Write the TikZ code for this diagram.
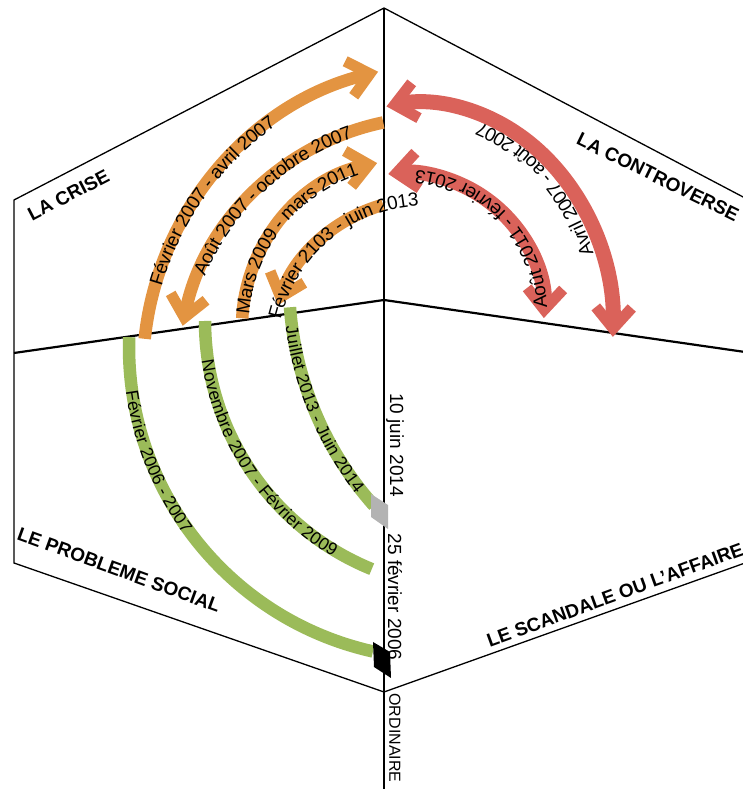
\documentclass[tikz,border=0pt]{standalone}
\usepackage{fontspec}
\setmainfont{Liberation Sans}
\usepackage{tikz}
\usetikzlibrary{arrows.meta,calc,decorations.text}
\definecolor{arcorange}{HTML}{E39441}
\definecolor{arcred}{HTML}{DA625A}
\definecolor{arcgreen}{HTML}{9BBB59}
\definecolor{markgray}{HTML}{B3B3B3}
\newcommand{\phasefont}{\fontsize{19}{19}\selectfont\bfseries}
\newcommand{\datefont}{\fontsize{19}{19}\selectfont}
\newcommand{\greenfont}{\fontsize{17.5}{17.5}\selectfont}

\begin{document}
\begin{tikzpicture}[x=1pt,y=1pt,
  frame/.style={line width=1.3pt},
  axis/.style={line width=2.2pt},
  phase/.style={font=\phasefont,inner sep=0pt},
  date/.style={font=\datefont,rotate=-90,inner sep=0pt},
  band/.style={line width=12.5pt},
  redband/.style={line width=15pt},
  chev/.tip={Straight Barb[length=21pt,width=36pt,line width=11pt]},
  arclabel/.style={decorate,decoration={text along path,text align=center,raise=#1}}]
  \useasboundingbox (0,0) rectangle (743,789);
  % frame of the four quadrants
  \coordinate (top) at (384,781); \coordinate (tl) at (14,589); \coordinate (bl) at (14,226);
  \coordinate (bot) at (384,97); \coordinate (br) at (745,226); \coordinate (tr) at (745,591);
  \coordinate (ml) at (14,436); \coordinate (mc) at (384,489); \coordinate (mr) at (745,437);
  \coordinate (axbot) at (384,-2);
  \draw[frame] (tr) -- (top) -- (tl) -- (bl) -- (bot) -- (br);
  \draw[axis] (top) -- (axbot);
  \draw[axis] (ml) -- (mc) -- (mr);
  \node[phase,rotate=27.5] (crise) at (68.5,594) {LA CRISE};
  \node[phase,rotate=-26] (controverse) at (658,612) {LA CONTROVERSE};
  \node[phase,rotate=-20] (social) at (119,219) {LE PROBLEME SOCIAL};
  \node[phase,rotate=20] (scandale) at (615,194) {LE SCANDALE OU L’AFFAIRE};
  \node[date] (juin) at (395,344) {10 juin 2014};
  \node[date] (fevrier) at (395,192) {25 février 2006};
  \node[date,font=\fontsize{16}{16}\selectfont] (ordinaire) at (395,51) {ORDINAIRE};

  % green arcs (probleme social)
  \coordinate (g1) at (441,442); \coordinate (g2) at (473,468); \coordinate (g3) at (626,507);
  \draw[band,arcgreen] ($(g1)+(178.2:312)$) arc[start angle=178.2,end angle=257.4,radius=312];
  \draw[band,arcgreen] ($(g2)+(180:268)$) arc[start angle=180,end angle=247.8,radius=268];
  \draw[band,arcgreen] ($(g3)+(184.3:337)$) arc[start angle=184.3,end angle=221.6,radius=337];
  \fill[markgray] (371,295) -- (388,284) -- (388,260) -- (371,272) -- cycle;
  \fill[black] (373,147) -- (390,137) -- (391,111) -- (374,122) -- cycle;

  % orange arcs (crise)
  \coordinate (o1) at (451,418); \coordinate (o2) at (436,414);
  \coordinate (o3) at (409,462); \coordinate (o4) at (425,435);
  \draw[band,arcorange,-chev] ($(o1)+(174:308)$) arc[start angle=174,end angle=103.7,radius=308];
  \draw[band,arcorange,-chev] ($(o2)+(101.8:258)$) arc[start angle=101.8,end angle=169,radius=258];
  \draw[band,arcorange,-chev] ($(o3)+(177:167)$) arc[start angle=177,end angle=101,radius=167];
  \draw[band,arcorange,-chev] ($(o4)+(105.7:155)$) arc[start angle=105.7,end angle=161.6,radius=155];

  % red arcs (controverse)
  \coordinate (r1) at (420,460); \coordinate (r2) at (405,477);
  \draw[redband,arcred,chev-chev] ($(r1)+(-2:193 and 226)$) arc[start angle=-2,end angle=100,x radius=193,y radius=226];
  \draw[redband,arcred,chev-chev] ($(r2)+(-2.5:139)$) arc[start angle=-2.5,end angle=96.9,radius=139];

  % labels along the arcs
  \path[arclabel=-6.8pt,decoration={text={|\datefont|Février 2007 - avril 2007}}] ($(o1)+(179.6:308)$) arc[start angle=179.6,end angle=109.6,radius=308];
  \path[arclabel=-6.8pt,decoration={text={|\datefont|Août 2007 - octobre 2007}}] ($(o2)+(168.1:258)$) arc[start angle=168.1,end angle=98.1,radius=258];
  \path[arclabel=-6.8pt,decoration={text={|\datefont|Mars 2009 - mars 2011}}] ($(o3)+(191.8:167)$) arc[start angle=191.8,end angle=91.8,radius=167];
  \path[arclabel=-6.8pt,decoration={text={|\datefont|Février 2103 - juin 2013}}] ($(o4)+(179.5:155)$) arc[start angle=179.5,end angle=79.5,radius=155];
  \path[arclabel=-6.3pt,decoration={text={|\greenfont|Février 2006 - 2007}}] ($(g1)+(172:312)$) arc[start angle=172,end angle=232,radius=312];
  \path[arclabel=-6.3pt,decoration={text={|\greenfont|Novembre 2007 - Février 2009}}] ($(g2)+(178.8:268)$) arc[start angle=178.8,end angle=248.8,radius=268];
  \path[arclabel=-6.3pt,decoration={text={|\greenfont|Juillet 2013 - Juin 2014}}] ($(g3)+(177.8:337)$) arc[start angle=177.8,end angle=227.8,radius=337];
  \path[arclabel=8pt,decoration={text={|\datefont|Avril 2007 - août 2007}}] ($(r1)+(2:193 and 226)$) arc[start angle=2,end angle=92,x radius=193,y radius=226];
  \path[arclabel=-3pt,decoration={text={|\datefont|Août 2011 - février 2013}}] ($(r2)+(-6.4:139)$) arc[start angle=-6.4,end angle=93.6,radius=139];
\end{tikzpicture}
\end{document}
